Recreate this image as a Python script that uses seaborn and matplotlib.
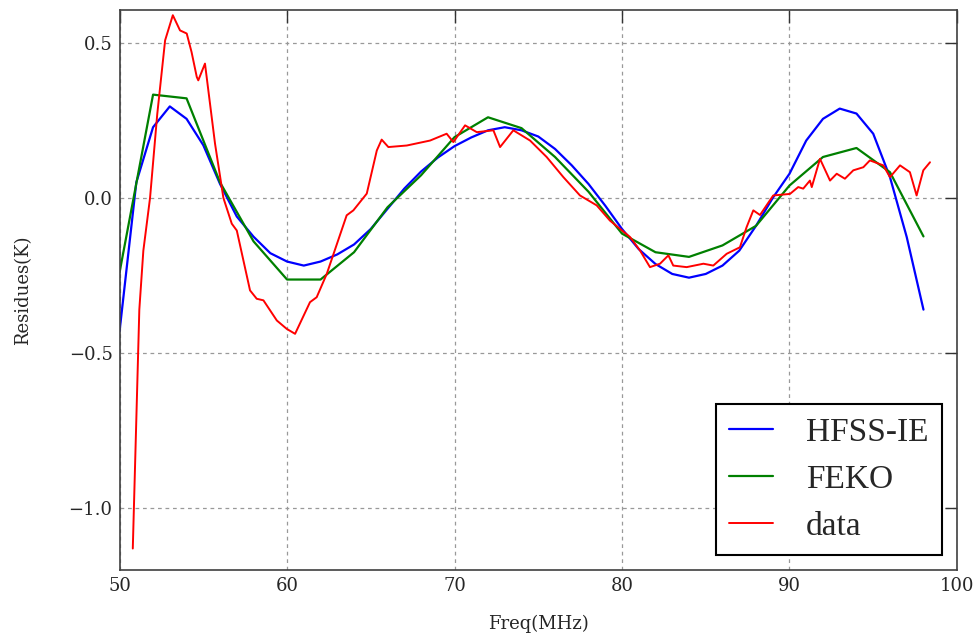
import numpy as np
import pandas as pd
import matplotlib
matplotlib.use("Agg")
import matplotlib.pyplot as plt
import seaborn as sns

# HFSS-IE simulation, 1 MHz steps
hfss_freq = [50, 51, 52, 53, 54, 55, 56, 57, 58, 59, 60, 61, 62, 63, 64, 65, 66, 67,
             68, 69, 70, 71, 72, 73, 74, 75, 76, 77, 78, 79, 80, 81, 82, 83, 84, 85,
             86, 87, 88, 89, 90, 91, 92, 93, 94, 95, 96, 97, 98]
hfss_res = [-0.43, 0.05, 0.228, 0.295, 0.255, 0.17, 0.045, -0.06, -0.125, -0.178,
            -0.205, -0.218, -0.205, -0.182, -0.15, -0.1, -0.035, 0.03, 0.085, 0.13,
            0.167, 0.195, 0.218, 0.228, 0.218, 0.198, 0.158, 0.105, 0.045, -0.025,
            -0.1, -0.165, -0.213, -0.245, -0.257, -0.245, -0.218, -0.17, -0.09, 0.0,
            0.078, 0.185, 0.255, 0.288, 0.272, 0.207, 0.067, -0.126, -0.36]

# FEKO simulation, 2 MHz steps
feko_freq = [50, 52, 54, 56, 58, 60, 62, 64, 66, 68, 70, 72, 74, 76, 78, 80, 82, 84,
             86, 88, 90, 92, 94, 96, 98]
feko_res = [-0.24, 0.333, 0.321, 0.05, -0.14, -0.263, -0.263, -0.175, -0.03, 0.073,
            0.196, 0.26, 0.225, 0.132, 0.02, -0.115, -0.175, -0.19, -0.153, -0.09,
            0.04, 0.132, 0.161, 0.083, -0.124]

# measured data
data_freq = [50.79, 51.18, 51.42, 51.82, 52.25, 52.72, 53.18, 53.61, 54.01, 54.3,
             54.61, 54.7, 55.1, 55.7, 56.2, 56.7, 57.0, 57.79, 58.19, 58.59, 59.39,
             59.98, 60.48, 61.37, 61.77, 62.37, 63.56, 63.96, 64.76, 65.36, 65.65,
             66.05, 67.15, 68.54, 69.53, 69.93, 70.63, 71.33, 72.32, 72.72, 73.51,
             74.51, 75.5, 76.5, 77.49, 78.49, 79.28, 80.48, 81.07, 81.67, 82.27,
             82.77, 83.06, 83.86, 84.86, 85.45, 86.25, 87.04, 87.44, 87.84, 88.24,
             89.03, 90.03, 90.52, 90.82, 91.22, 91.33, 91.82, 92.42, 92.82, 93.31,
             93.81, 94.41, 94.8, 95.6, 96.0, 96.6, 97.19, 97.59, 97.99, 98.39]
data_res = [-1.13, -0.36, -0.17, 0.0, 0.27, 0.508, 0.589, 0.54, 0.53, 0.47,
            0.39, 0.379, 0.433, 0.175, 0.0, -0.083, -0.105, -0.298, -0.325, -0.33,
            -0.395, -0.422, -0.438, -0.336, -0.32, -0.245, -0.056, -0.04, 0.014, 0.153,
            0.188, 0.164, 0.169, 0.185, 0.207, 0.18, 0.234, 0.212, 0.218, 0.164,
            0.218, 0.185, 0.132, 0.067, 0.008, -0.024, -0.073, -0.126, -0.169, -0.223,
            -0.212, -0.185, -0.218, -0.223, -0.212, -0.218, -0.18, -0.159, -0.094, -0.04,
            -0.055, 0.008, 0.013, 0.035, 0.03, 0.056, 0.035, 0.126, 0.056, 0.078,
            0.062, 0.089, 0.099, 0.121, 0.105, 0.067, 0.105, 0.083, 0.008, 0.089, 0.115]

sns.set_style("white")
plt.rcParams['font.family'] = ['DejaVu Serif']

df_hfss = pd.DataFrame({'Freq': hfss_freq, 'Res': hfss_res})
df_feko = pd.DataFrame({'Freq': feko_freq, 'Res': feko_res})
df_data = pd.DataFrame({'Freq': data_freq, 'Res': data_res})

fig = plt.figure(figsize=(9.8, 6.4), dpi=100)
ax = fig.add_axes([0.122, 0.109, 0.8545, 0.875])

sns.lineplot(data=df_hfss, x='Freq', y='Res', color='b', lw=1.6, label='HFSS-IE', ax=ax)
sns.lineplot(data=df_feko, x='Freq', y='Res', color='g', lw=1.6, label='FEKO', ax=ax)
sns.lineplot(data=df_data, x='Freq', y='Res', color='r', lw=1.4, label='data', ax=ax)

ax.set_xlim(50, 100)
ax.set_ylim(-1.2, 0.605)
ax.set_xticks([50, 60, 70, 80, 90, 100])
ax.set_yticks([-1.0, -0.5, 0.0, 0.5])
ax.grid(True, color='0.6', linestyle=(0, (3, 3)), lw=0.9)
ax.tick_params(direction='in', length=9, width=1, top=True, right=True,
               labelsize=13, pad=5, color='0.2')
for s in ax.spines.values():
    s.set_color('0.25')
    s.set_linewidth(1.2)

ax.set_xlabel('Freq(MHz)', fontsize=13, labelpad=14)
ax.set_ylabel('Residues(K)', fontsize=13, labelpad=26)

leg = ax.legend(loc='lower right', fancybox=False, framealpha=1, edgecolor='black',
                prop={'family': 'Liberation Serif', 'size': 24}, handlelength=1.3,
                borderaxespad=0.45, labelspacing=0.5, handletextpad=1.0,
                borderpad=0.4)
leg.get_frame().set_linewidth(1.5)

fig.savefig('out.png', dpi=100)
